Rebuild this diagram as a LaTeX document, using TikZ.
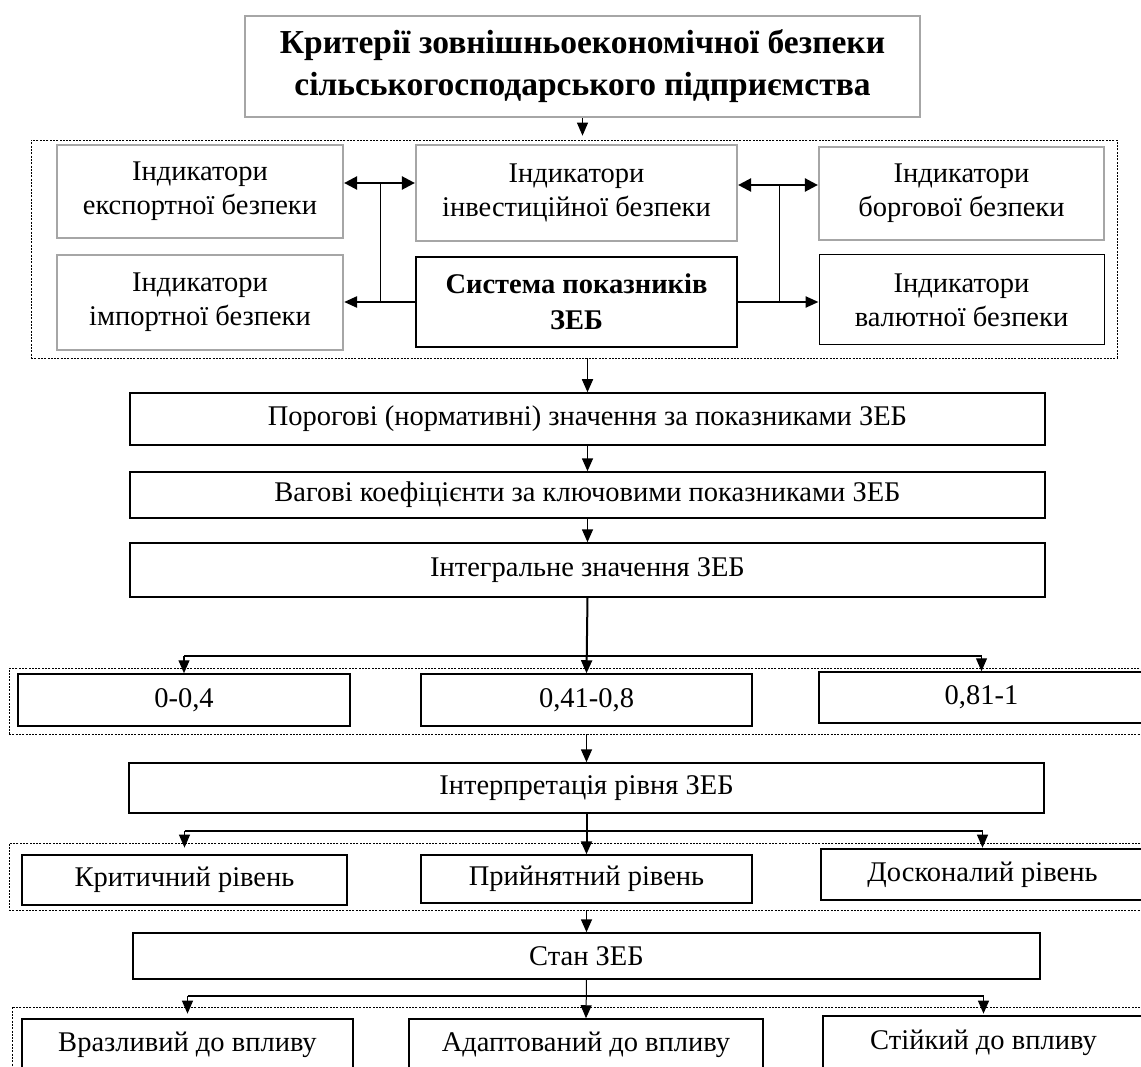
\documentclass[tikz,border=0pt]{standalone}
\usepackage{fontspec}
\setmainfont{Liberation Serif}
\usetikzlibrary{arrows.meta}

\begin{document}
\begin{tikzpicture}[x=1pt,y=-1pt,
    box/.style={draw, line width=1.5pt, inner sep=0pt, align=center, font=\fontsize{28.5}{34}\selectfont},
    greybox/.style={box, draw=black!35, line width=2.2pt},
    group/.style={draw, dash pattern=on 2pt off 1.3pt, line width=0.7pt, inner sep=0pt},
    arr/.style={-{Triangle[length=13pt,width=11pt]}, line width=1.6pt},
    dbl/.style={{Triangle[length=13pt,width=13pt]}-{Triangle[length=13pt,width=13pt]}, line width=2.4pt}]
  \useasboundingbox (0,0) rectangle (1141,1067);
  \clip (0,0) rectangle (1141,1067);
  % criteria
  \node[greybox, font=\bfseries\fontsize{33.5}{42}\selectfont, minimum width=675, minimum height=101] (crit) at (582.5,66.5) {Критерії зовнішньоекономічної безпеки\\сільськогосподарського підприємства};
  \node[group, minimum width=1086, minimum height=218] (g1) at (574,249) {};
  \node[greybox, minimum width=286, minimum height=93] (exp) at (200,191.5) {Індикатори\\експортної безпеки};
  \node[greybox, minimum width=321, minimum height=96] (inv) at (576.5,193) {Індикатори\\інвестиційної безпеки};
  \node[greybox, minimum width=285, minimum height=93] (debt) at (961.5,193.5) {Індикатори\\боргової безпеки};
  \node[greybox, minimum width=286, minimum height=95] (imp) at (200,302.5) {Індикатори\\імпортної безпеки};
  \node[box, line width=2.6pt, font=\bfseries\fontsize{28.5}{36}\selectfont, minimum width=321, minimum height=90] (sys) at (576.5,302) {Система показників\\ЗЕБ};
  \node[box, line width=1pt, minimum width=285, minimum height=90] (cur) at (961.5,300) {Індикатори\\валютної безпеки};
  \coordinate (jl) at (380,183);
  \coordinate (jr) at (779,185);
  \draw[arr, line width=1pt] (crit.south) -- ([yshift=4pt]crit.south |- g1.north);
  \draw[dbl] ([yshift=8.5pt]exp.east) -- ([yshift=8.5pt]exp.east -| inv.west);
  \draw[dbl] ([yshift=8pt]inv.east) -- ([yshift=8pt]inv.east -| debt.west);
  \draw[line width=0.8pt] (jl) -- (jl |- sys.west);
  \draw[line width=0.8pt] (jr) -- (jr |- sys.east);
  \draw[arr, line width=2.4pt] (sys.west) -- (sys.west -| imp.east);
  \draw[arr, line width=2.4pt] (sys.east) -- (sys.east -| cur.west);
  % values
  \node[box, minimum width=915, minimum height=52] (thr) at (587.5,419) {Порогові (нормативні) значення за показниками ЗЕБ};
  \node[box, minimum width=915, minimum height=46] (wgt) at (587.5,495) {Вагові коефіцієнти за ключовими показниками ЗЕБ};
  \node[box, minimum width=915, minimum height=54] (intg) at (587.5,570) {Інтегральне значення ЗЕБ};
  \draw[arr] (thr.north |- g1.south) -- (thr.north);
  \draw[arr] (thr.south) -- (wgt.north);
  \draw[arr] (wgt.south) -- (intg.north);
  % ranges
  \node[group, minimum width=1141, minimum height=66] (g2) at (579.5,701) {};
  \node[box, minimum width=332, minimum height=52] (r1) at (184,700) {0-0,4};
  \node[box, minimum width=331, minimum height=52] (r2) at (586.5,700) {0,41-0,8};
  \node[box, minimum width=325, minimum height=51] (r3) at (981.5,697.5) {0,81-1};
  \coordinate (br1) at (585,656);
  \draw[arr, line width=2pt] (intg.south) -- (r2.north);
  \draw[line width=1.2pt] (br1 -| r1.north) -- (br1 -| r3.north);
  \draw[arr, line width=1.2pt] (br1 -| r1.north) -- (r1.north);
  \draw[arr, line width=1.2pt] (br1 -| r3.north) -- (r3.north);
  % levels
  \node[box, minimum width=915, minimum height=50] (interp) at (586.5,788) {Інтерпретація рівня ЗЕБ};
  \draw[arr] (r2.south |- g2.south) -- (interp.north);
  \node[group, minimum width=1141, minimum height=67] (g3) at (579.5,876.5) {};
  \node[box, minimum width=325, minimum height=50] (l1) at (184.5,880) {Критичний рівень};
  \node[box, minimum width=331, minimum height=48] (l2) at (586.5,879) {Прийнятний рівень};
  \node[box, minimum width=323, minimum height=51] (l3) at (982.5,874.5) {Досконалий рівень};
  \coordinate (br2) at (585,831);
  \draw[arr, line width=2pt] (interp.south) -- (l2.north);
  \draw[line width=1.2pt] (br2 -| l1.north) -- (br2 -| l3.north);
  \draw[arr, line width=1.2pt] (br2 -| l1.north) -- ([yshift=-5pt]l1.north |- g3.north);
  \draw[arr, line width=1.2pt] (br2 -| l3.north) -- ([yshift=-5pt]l3.north |- g3.north);
  % state
  \node[box, minimum width=907, minimum height=46] (state) at (586.5,956) {Стан ЗЕБ};
  \draw[arr] (l2.south |- g3.south) -- (state.north);
  \node[group, minimum width=1138, minimum height=83] (g4) at (581,1048.5) {};
  \node[box, minimum width=331, minimum height=51] (s1) at (187.5,1044.5) {Вразливий до впливу};
  \node[box, minimum width=354, minimum height=51] (s2) at (586,1044.5) {Адаптований до впливу};
  \node[box, minimum width=321, minimum height=54] (s3) at (983.5,1043) {Стійкий до впливу};
  \coordinate (br3) at (585,996);
  \draw[arr, line width=1pt] (state.south) -- (s2.north);
  \draw[line width=1.2pt] (br3 -| s1.north) -- (br3 -| s3.north);
  \draw[arr, line width=1.2pt] (br3 -| s1.north) -- ([yshift=-7pt]s1.north |- g4.north);
  \draw[arr, line width=1.2pt] (br3 -| s3.north) -- ([yshift=-7pt]s3.north |- g4.north);
\end{tikzpicture}
\end{document}
